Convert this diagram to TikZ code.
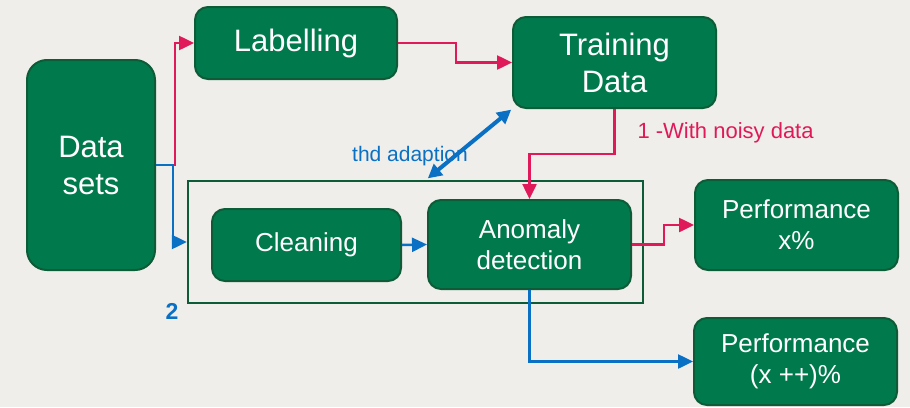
\documentclass[tikz,border=0pt]{standalone}
\usepackage{fontspec}
\setmainfont{Liberation Sans}
\usepackage{xcolor}
\usepackage{tikz}
\usetikzlibrary{arrows.meta,positioning,calc}

\definecolor{boxgreen}{HTML}{007A4C}
\definecolor{edgegreen}{HTML}{0D5C37}
\definecolor{pathred}{HTML}{E0195A}
\definecolor{pathblue}{HTML}{0A70C4}
\definecolor{paper}{HTML}{EFEEEA}

\begin{document}
\begin{tikzpicture}[
    x=1pt, y=-1pt,
    block/.style={rectangle, rounded corners=13pt, draw=edgegreen, line width=2pt, fill=boxgreen,
        text=white, inner sep=0pt, align=center, font=\fontsize{26}{31}\selectfont},
    bigblock/.style={block, font=\fontsize{31}{37}\selectfont},
    groupbox/.style={rectangle, draw=edgegreen, line width=2.5pt, inner sep=0pt},
    redflow/.style={-{Triangle[length=15pt,width=14pt]}, line width=2.5pt, pathred},
    blueflow/.style={-{Triangle[length=15pt,width=14pt]}, line width=2.5pt, pathblue},
    adapt/.style={{Triangle[length=14pt,width=14pt]}-{Triangle[length=14pt,width=14pt]}, line width=4pt, pathblue, shorten <=1pt, shorten >=1pt},
    label/.style={font=\fontsize{21}{25}\selectfont}
]
    % Background
    \useasboundingbox (0,0) rectangle (910,407);
    \fill[paper] (0,0) rectangle (910,407);

    % Boxes along the top
    \node[bigblock, rounded corners=20pt, minimum width=128pt, minimum height=210pt] (datasets) at (91,165) {Data\\sets};
    \node[bigblock, minimum width=202pt, minimum height=72pt] (labelling) at (296,43) {Labelling};
    \node[bigblock, minimum width=203pt, minimum height=91pt] (training) at (614.5,62.5) {Training\\Data};

    % Cleaning and detection group
    \node[groupbox, minimum width=455pt, minimum height=122pt] (group) at (415.5,242) {};
    \node[block, minimum width=189pt, minimum height=72pt] (cleaning) at (306.5,245) {Cleaning};
    \node[block, minimum width=203pt, minimum height=89pt] (anomaly) at (529.5,244.5) {Anomaly\\detection};

    % Results
    \node[block, minimum width=203pt, minimum height=90pt] (perfa) at (796.5,225) {Performance\\x\%};
    \node[block, minimum width=203pt, minimum height=87pt] (perfb) at (795.5,361.5) {Performance\\(x ++)\%};

    % Path 1 (labelled data)
    \draw[redflow] (datasets.east) -- ++(19,0) |- (labelling.west);
    \draw[redflow] (labelling.east) -- ++(58,0) |- (training.west);
    \draw[redflow] (training.south) -- ++(0,45) -| (anomaly.north);
    \draw[redflow] (anomaly.east) -- ++(32,0) |- (perfa.west);
    \node[label, pathred, anchor=west, font=\fontsize{22}{26}\selectfont] (noisy) at (634,133) {1 -With noisy data};

    % Path 2 (cleaned data)
    \draw[blueflow] (datasets.east) -- ++(17,0) |- (group.west);
    \draw[blueflow] (cleaning.east) -- (anomaly.west);
    \draw[blueflow] (anomaly.south) |- (perfb.west);
    \node[pathblue, font=\bfseries\fontsize{23}{27}\selectfont] (two) at (172,311) {2};

    % Threshold adaption
    \coordinate (thdend) at (427,179);
    \draw[adapt] (thdend) -- (training.south west);
    \node[label, pathblue] (thd) at (410,156) {thd adaption};
\end{tikzpicture}
\end{document}
